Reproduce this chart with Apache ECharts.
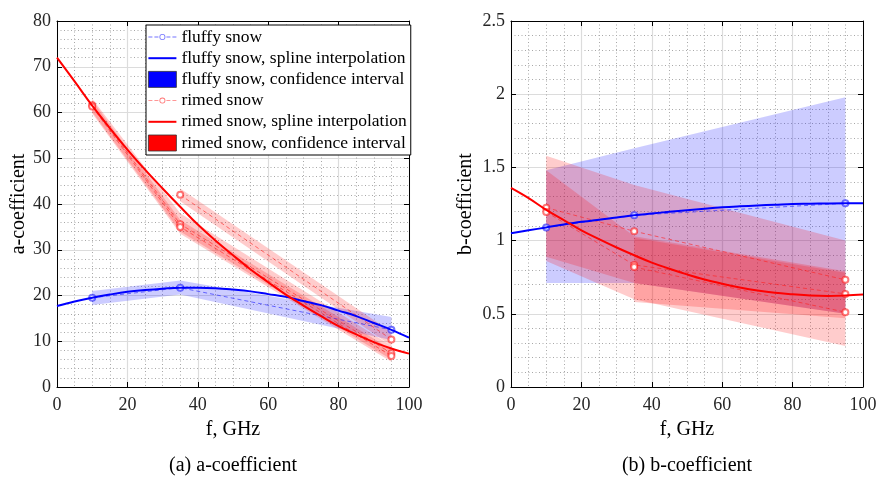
<!DOCTYPE html>
<html>
<head>
<meta charset="utf-8">
<script src="https://cdn.jsdelivr.net/npm/echarts@6/dist/echarts.min.js"></script>
<style>html,body{margin:0;padding:0;background:#fff}#c{width:880px;height:480px}</style>
</head>
<body>
<div id="c"></div>
<script>
// ---------- data ----------
const fTicks = [0, 20, 40, 60, 80, 100];
const fMeas = [10, 35, 95];
const fMeas2 = [35, 95];
const fSpline = [0,5,10,15,20,25,30,35,40,45,50,55,60,65,70,75,80,85,90,95,100];

// (a) a-coefficient
const aFluffy = [19.5, 21.7, 12.5];
const aFluffyUp = [21.0, 23.3, 15.3];
const aFluffyLo = [17.9, 20.2, 10.3];
const aFluffySpline = [17.7,18.7,19.5,20.2,20.8,21.2,21.5,21.7,21.7,21.6,21.3,20.9,20.3,19.7,18.8,17.9,16.7,15.5,14.0,12.5,10.8];
const aRimed1 = [61.6, 35.6, 7.4];
const aRimed1Up = [63.0, 38.0, 9.0];
const aRimed1Lo = [60.1, 34.0, 6.0];
const aRimed2 = [61.3, 35.0, 6.8];
const aRimed2Up = [62.6, 36.5, 8.2];
const aRimed2Lo = [59.8, 33.5, 5.5];
const aRimed3 = [42.0, 10.4];
const aRimed3Up = [43.4, 12.0];
const aRimed3Lo = [40.6, 9.0];
const aRimedSpline = [72.0,66.8,61.5,56.6,51.9,47.5,43.4,39.4,35.5,32.0,28.8,25.7,22.9,20.2,17.8,15.5,13.3,11.5,9.8,8.4,7.3];

// (b) b-coefficient
const bFluffy = [1.09, 1.173, 1.255];
const bFluffyUp = [1.48, 1.63, 1.98];
const bFluffyLo = [0.71, 0.71, 0.50];
const bFluffySpline = [1.05,1.07,1.09,1.11,1.128,1.143,1.157,1.173,1.185,1.197,1.208,1.218,1.227,1.234,1.24,1.245,1.25,1.252,1.254,1.255,1.255];
const bRimed1 = [1.225, 1.064, 0.732];
const bRimed1Up = [1.58, 1.38, 1.00];
const bRimed1Lo = [0.89, 0.71, 0.50];
const bRimed2 = [1.195, 0.834, 0.636];
const bRimed2Up = [1.48, 1.03, 0.79];
const bRimed2Lo = [0.86, 0.60, 0.28];
const bRimed3 = [0.819, 0.511];
const bRimed3Up = [1.02, 0.78];
const bRimed3Lo = [0.58, 0.47];
const bRimedSpline = [1.36,1.29,1.21,1.14,1.07,1.01,0.953,0.90,0.85,0.808,0.769,0.734,0.705,0.68,0.659,0.643,0.633,0.625,0.622,0.625,0.632];

// ---------- styling ----------
const FONT = 'Liberation Serif';
const BLUE = '#0000ff', RED = '#ff0000';
const BLUE_DASH = 'rgba(40,40,255,0.65)', RED_DASH = 'rgba(255,30,30,0.6)';
const BLUE_FILL = 'rgba(0,0,255,0.2)', RED_FILL = 'rgba(255,0,0,0.2)';
const N_FL = 'fluffy snow', N_FLS = 'fluffy snow, spline interpolation', N_FLC = 'fluffy snow, confidence interval';
const N_RI = 'rimed snow', N_RIS = 'rimed snow, spline interpolation', N_RIC = 'rimed snow, confidence interval';

const pairs = (xs, ys) => xs.map((x, i) => [x, ys[i]]);

function band(name, g, xs, up, lo, fill) {
  return {
    type: 'custom', name, xAxisIndex: g * 2, yAxisIndex: g * 2,
    data: xs.map((x, i) => [x, up[i], lo[i]]),
    encode: { x: 0, y: [1, 2] },
    itemStyle: { color: fill },
    silent: true, z: 1,
    renderItem: function (params, api) {
      if (params.dataIndex !== 0) return null;
      const pts = [];
      for (let i = 0; i < xs.length; i++) pts.push(api.coord([xs[i], up[i]]));
      for (let i = xs.length - 1; i >= 0; i--) pts.push(api.coord([xs[i], lo[i]]));
      return { type: 'polygon', shape: { points: pts }, style: { fill: fill, stroke: null } };
    }
  };
}
function dashed(name, g, xs, ys, color) {
  return {
    type: 'line', name, xAxisIndex: g * 2, yAxisIndex: g * 2, data: pairs(xs, ys),
    lineStyle: { color, width: 1, type: [4, 3] },
    symbol: 'emptyCircle', symbolSize: 6, itemStyle: { color, borderWidth: 1 },
    z: 3, silent: true
  };
}
function spline(name, g, ys, color) {
  return {
    type: 'line', name, xAxisIndex: g * 2, yAxisIndex: g * 2, data: pairs(fSpline, ys),
    lineStyle: { color, width: 2 }, itemStyle: { color }, symbol: 'none', smooth: 0.4,
    z: 4, silent: true
  };
}

function xAxes(g) {
  return [{
    type: 'value', gridIndex: g, min: 0, max: 100, interval: 20,
    name: 'f, GHz', nameLocation: 'middle', nameGap: 33,
    nameTextStyle: { fontFamily: FONT, fontSize: 20, color: '#000' },
    axisLine: { show: true, onZero: false, lineStyle: { color: '#000', width: 1 } },
    axisTick: { show: true, inside: true, length: 5, lineStyle: { color: '#000' } },
    axisLabel: { fontFamily: FONT, fontSize: 18, color: '#262626', margin: 9 },
    splitLine: { show: true, lineStyle: { color: '#dcdcdc', width: 1.2 } },
    minorTick: { show: false, splitNumber: 4 },
    minorSplitLine: { show: true, lineStyle: { color: '#a8a8a8', width: 1, type: [1, 2.5] } }
  }, {
    type: 'value', gridIndex: g, min: 0, max: 100, interval: 20, position: 'top',
    axisLine: { show: true, onZero: false, lineStyle: { color: '#000', width: 1 } },
    axisTick: { show: true, inside: true, length: 5, lineStyle: { color: '#000' } },
    axisLabel: { show: false }, splitLine: { show: false }
  }];
}
function yAxes(g, max, interval, name, gap) {
  return [{
    type: 'value', gridIndex: g, min: 0, max, interval,
    name, nameLocation: 'middle', nameGap: gap,
    nameTextStyle: { fontFamily: FONT, fontSize: 20, color: '#000' },
    axisLine: { show: true, onZero: false, lineStyle: { color: '#000', width: 1 } },
    axisTick: { show: true, inside: true, length: 5, lineStyle: { color: '#000' } },
    axisLabel: { fontFamily: FONT, fontSize: 18, color: '#262626', margin: 6 },
    splitLine: { show: true, lineStyle: { color: '#dcdcdc', width: 1.2 } },
    minorTick: { show: false, splitNumber: 5 },
    minorSplitLine: { show: true, lineStyle: { color: '#a8a8a8', width: 1, type: [1, 2.5] } }
  }, {
    type: 'value', gridIndex: g, min: 0, max, interval, position: 'right',
    axisLine: { show: true, onZero: false, lineStyle: { color: '#000', width: 1 } },
    axisTick: { show: true, inside: true, length: 5, lineStyle: { color: '#000' } },
    axisLabel: { show: false }, splitLine: { show: false }
  }];
}

// legend icons (box 28x16)
const ICON_DASH_CIRCLE = 'path://M0,0 M28,16 M0,7.6 L4,7.6 L4,8.4 L0,8.4 Z M6,7.6 L10,7.6 L10,8.4 L6,8.4 Z M18,7.6 L22,7.6 L22,8.4 L18,8.4 Z M24,7.6 L28,7.6 L28,8.4 L24,8.4 Z M17,8 A3,3 0 1,0 11,8 A3,3 0 1,0 17,8 Z M16.2,8 A2.2,2.2 0 1,1 11.8,8 A2.2,2.2 0 1,1 16.2,8 Z';
const ICON_LINE = 'path://M0,0 M28,16 M0,7 L28,7 L28,9 L0,9 Z';

const option = {
  animation: false,
  backgroundColor: '#fff',
  grid: [
    { left: 57, top: 21, width: 352, height: 366, containLabel: false },
    { left: 511, top: 21, width: 352, height: 366, containLabel: false }
  ],
  xAxis: [...xAxes(0), ...xAxes(1)],
  yAxis: [...yAxes(0, 80, 10, 'a-coefficient', 21), ...yAxes(1, 2.5, 0.5, 'b-coefficient', 35)],
  legend: {
    left: 146, top: 25, orient: 'vertical',
    itemWidth: 28, itemHeight: 16, itemGap: 3.2,
    padding: [3, 4, 3, 2],
    backgroundColor: '#fff', borderColor: '#000', borderWidth: 1,
    textStyle: { fontFamily: FONT, fontSize: 17.5, color: '#000' },
    selectedMode: false,
    data: [
      { name: N_FL, icon: ICON_DASH_CIRCLE, itemStyle: { color: 'rgba(80,80,255,0.8)' } },
      { name: N_FLS, icon: ICON_LINE, itemStyle: { color: BLUE } },
      { name: N_FLC, icon: 'rect', itemStyle: { color: BLUE, borderColor: '#333', borderWidth: 0.8 } },
      { name: N_RI, icon: ICON_DASH_CIRCLE, itemStyle: { color: 'rgba(255,80,80,0.8)' } },
      { name: N_RIS, icon: ICON_LINE, itemStyle: { color: RED } },
      { name: N_RIC, icon: 'rect', itemStyle: { color: RED, borderColor: '#333', borderWidth: 0.8 } }
    ]
  },
  graphic: [
    { type: 'text', x: 233, y: 466, style: { text: '(a) a-coefficient', align: 'center', verticalAlign: 'middle', textAlign: 'center', textVerticalAlign: 'middle', font: '20px "Liberation Serif"', fill: '#000' } },
    { type: 'text', x: 687, y: 466, style: { text: '(b) b-coefficient', align: 'center', verticalAlign: 'middle', textAlign: 'center', textVerticalAlign: 'middle', font: '20px "Liberation Serif"', fill: '#000' } }
  ],
  series: [
    // panel (a)
    band(N_FLC, 0, fMeas, aFluffyUp, aFluffyLo, BLUE_FILL),
    band(N_RIC, 0, fMeas, aRimed1Up, aRimed1Lo, RED_FILL),
    band(N_RIC, 0, fMeas, aRimed2Up, aRimed2Lo, RED_FILL),
    band(N_RIC, 0, fMeas2, aRimed3Up, aRimed3Lo, RED_FILL),
    dashed(N_FL, 0, fMeas, aFluffy, BLUE_DASH),
    dashed(N_RI, 0, fMeas, aRimed1, RED_DASH),
    dashed(N_RI, 0, fMeas, aRimed2, RED_DASH),
    dashed(N_RI, 0, fMeas2, aRimed3, RED_DASH),
    spline(N_FLS, 0, aFluffySpline, BLUE),
    spline(N_RIS, 0, aRimedSpline, RED),
    // panel (b)
    band(N_FLC, 1, fMeas, bFluffyUp, bFluffyLo, BLUE_FILL),
    band(N_RIC, 1, fMeas, bRimed1Up, bRimed1Lo, RED_FILL),
    band(N_RIC, 1, fMeas, bRimed2Up, bRimed2Lo, RED_FILL),
    band(N_RIC, 1, fMeas2, bRimed3Up, bRimed3Lo, RED_FILL),
    dashed(N_FL, 1, fMeas, bFluffy, BLUE_DASH),
    dashed(N_RI, 1, fMeas, bRimed1, RED_DASH),
    dashed(N_RI, 1, fMeas, bRimed2, RED_DASH),
    dashed(N_RI, 1, fMeas2, bRimed3, RED_DASH),
    spline(N_FLS, 1, bFluffySpline, BLUE),
    spline(N_RIS, 1, bRimedSpline, RED)
  ]
};
const chart = echarts.init(document.getElementById('c'), null, { renderer: 'canvas' });
chart.setOption(option);
</script>
</body>
</html>
